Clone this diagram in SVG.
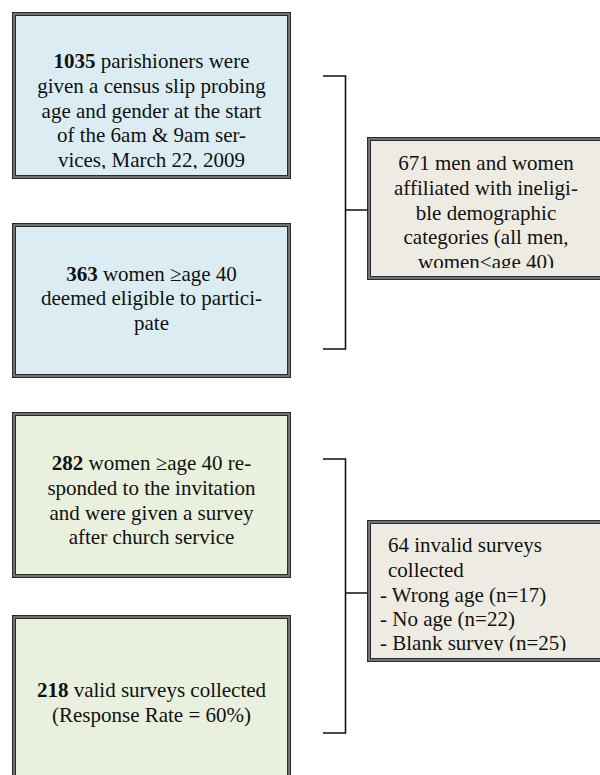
<svg xmlns="http://www.w3.org/2000/svg" width="600" height="775" viewBox="0 0 600 775">
<style>
.frame{stroke:#2b2b2b;stroke-width:4}
.mid{fill:none;stroke:#8a8a8a;stroke-width:1.5}
.blue{fill:#dbedf3}
.green{fill:#e9f0dd}
.beige{fill:#eeece2}
text{font-family:"Liberation Serif","Times New Roman",serif;font-size:21px;fill:#111}
.c{text-anchor:middle}
.b{font-weight:bold}
.conn{fill:none;stroke:#111;stroke-width:1.6}
</style>
<defs>
<clipPath id="cp1"><rect x="16" y="16" width="271" height="153"/></clipPath>
<clipPath id="cp5"><rect x="371" y="141" width="240" height="127"/></clipPath>
<clipPath id="cp6"><rect x="371" y="524" width="240" height="127"/></clipPath>
</defs>
<rect width="600" height="775" fill="#fff"/>
<g id="connectors">
<path class="conn" d="M323 76H345.5V349H323M345.5 210H369"/>
<path class="conn" d="M323 459H345.5V733H323M345.5 593H369"/>
</g>
<g id="n1">
<rect class="blue frame" x="14" y="14" width="275" height="163"/>
<rect class="mid" x="14" y="14" width="275" height="163"/>
<g clip-path="url(#cp1)">
<text class="c" x="151.5" y="68"><tspan class="b">1035</tspan> parishioners were</text>
<text class="c" x="151.5" y="93">given a census slip probing</text>
<text class="c" x="151.5" y="117.5">age and gender at the start</text>
<text class="c" x="151.5" y="142">of the 6am &amp; 9am ser-</text>
<text class="c" x="151.5" y="167">vices, March 22, 2009</text>
</g>
</g>
<g id="n2">
<rect class="blue frame" x="14" y="225" width="275" height="151"/>
<rect class="mid" x="14" y="225" width="275" height="151"/>
<text class="c" x="151.5" y="280.5"><tspan class="b">363</tspan> women ≥age 40</text>
<text class="c" x="151.5" y="305">deemed eligible to partici-</text>
<text class="c" x="151.5" y="329.5">pate</text>
</g>
<g id="n3">
<rect class="green frame" x="14" y="414" width="275" height="162"/>
<rect class="mid" x="14" y="414" width="275" height="162"/>
<text class="c" x="151.5" y="470"><tspan class="b">282</tspan> women ≥age 40 re-</text>
<text class="c" x="151.5" y="495">sponded to the invitation</text>
<text class="c" x="151.5" y="519.5">and were given a survey</text>
<text class="c" x="151.5" y="544">after church service</text>
</g>
<g id="n4">
<rect class="green frame" x="14" y="617" width="275" height="170"/>
<rect class="mid" x="14" y="617" width="275" height="170"/>
<text class="c" x="151.5" y="697"><tspan class="b">218</tspan> valid surveys collected</text>
<text class="c" x="151.5" y="722">(Response Rate = 60%)</text>
</g>
<g id="n5">
<rect class="beige frame" x="369" y="139" width="240" height="139"/>
<rect class="mid" x="369" y="139" width="240" height="139"/>
<g clip-path="url(#cp5)">
<text class="c" x="486" y="170">671 men and women</text>
<text class="c" x="486" y="195">affiliated with ineligi-</text>
<text class="c" x="486" y="219.5">ble demographic</text>
<text class="c" x="486" y="244">categories (all men,</text>
<text class="c" x="486" y="268.5">women&lt;age 40)</text>
</g>
</g>
<g id="n6">
<rect class="beige frame" x="369" y="522" width="240" height="138"/>
<rect class="mid" x="369" y="522" width="240" height="138"/>
<g clip-path="url(#cp6)">
<text x="388" y="552">64 invalid surveys</text>
<text x="388" y="577">collected</text>
<text x="380" y="601.5">- Wrong age (n=17)</text>
<text x="380" y="625.5">- No age (n=22)</text>
<text x="380" y="650">- Blank survey (n=25)</text>
</g>
</g>
</svg>
